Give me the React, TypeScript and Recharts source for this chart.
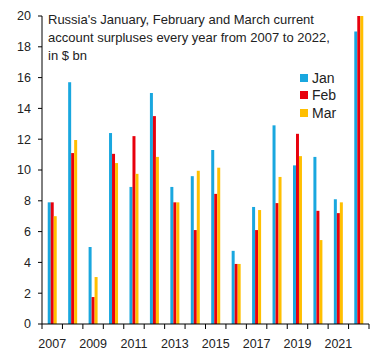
import { BarChart, Bar, XAxis, YAxis } from 'recharts'

const years = ['2007', '2008', '2009', '2010', '2011', '2012', '2013', '2014', '2015', '2016', '2017', '2018', '2019', '2020', '2021', '2022']
const jan = [7.9, 15.7, 5.0, 12.4, 8.9, 15.0, 8.9, 9.6, 11.3, 4.75, 7.6, 12.9, 10.3, 10.85, 8.1, 19.0]
const feb = [7.9, 11.1, 1.75, 11.05, 12.2, 13.5, 7.9, 6.1, 8.45, 3.9, 6.1, 7.85, 12.35, 7.35, 7.2, 20]
const mar = [7.0, 11.95, 3.05, 10.45, 9.75, 10.85, 7.9, 9.95, 10.15, 3.9, 7.4, 9.55, 10.9, 5.45, 7.9, 20]
const yTicks = [0, 2, 4, 6, 8, 10, 12, 14, 16, 18, 20]

const title = [
  "Russia's January, February and March current",
  'account surpluses every year from 2007 to 2022,',
  'in $ bn',
]

const series = [
  { key: 'jan', name: 'Jan', color: '#19A7DF' },
  { key: 'feb', name: 'Feb', color: '#E8000D' },
  { key: 'mar', name: 'Mar', color: '#FFBF00' },
]

const data = years.map((y, i) => ({ year: y, jan: jan[i], feb: feb[i], mar: mar[i] }))

const W = 384
const H = 360
const M = { top: 16, right: 15, left: 0, bottom: 6 }
const Y_W = 42
const PLOT_W = W - M.left - M.right - Y_W
const FONT = '"Liberation Sans", Arial, sans-serif'
const TEXT = '#222'

// tick marks sit on category borders, labels on every other year
function YearTick(props: any) {
  const { x, y, payload, index } = props
  const half = payload?.offset || PLOT_W / years.length / 2
  const last = index === years.length - 1
  return (
    <g>
      <line x1={x - half} x2={x - half} y1={y} y2={y + 5} stroke="#000" />
      {last && <line x1={x + half} x2={x + half} y1={y} y2={y + 5} stroke="#000" />}
      {index % 2 === 0 && (
        <text x={x} y={y + 23.5} textAnchor="middle" fill={TEXT} fontSize={12.5} fontFamily={FONT}>
          {payload.value}
        </text>
      )}
    </g>
  )
}

export default function App() {
  return (
    <div style={{ position: 'absolute', left: 0, top: 0, width: W, height: H, background: '#fff' }}>
      <BarChart width={W} height={H} data={data} margin={M} barGap={0} barCategoryGap="28%">
        <XAxis
          dataKey="year"
          interval={0}
          height={30}
          tickSize={0}
          tickMargin={0}
          tickLine={false}
          axisLine={{ stroke: '#000' }}
          tick={<YearTick />}
        />
        <YAxis
          width={Y_W}
          domain={[0, 20]}
          ticks={yTicks}
          allowDataOverflow
          tickSize={4}
          tickMargin={7}
          axisLine={{ stroke: '#000' }}
          tickLine={{ stroke: '#000' }}
          tick={{ fill: TEXT, fontSize: 12.5, fontFamily: FONT }}
        />
        {series.map(s => (
          <Bar key={s.key} dataKey={s.key} name={s.name} fill={s.color} isAnimationActive={false} />
        ))}
      </BarChart>

      <div
        style={{
          position: 'absolute', left: 48, top: 11,
          fontFamily: FONT, fontSize: 13, lineHeight: '18px', color: TEXT,
        }}
      >
        {title.map(t => <div key={t}>{t}</div>)}
      </div>

      <div style={{ position: 'absolute', left: 300, top: 69, fontFamily: FONT, fontSize: 14, color: TEXT }}>
        {series.map(s => (
          <div key={s.key} style={{ display: 'flex', alignItems: 'center', height: 17.5 }}>
            <span style={{ width: 8, height: 8, background: s.color, marginRight: 4 }} />
            {s.name}
          </div>
        ))}
      </div>
    </div>
  )
}
